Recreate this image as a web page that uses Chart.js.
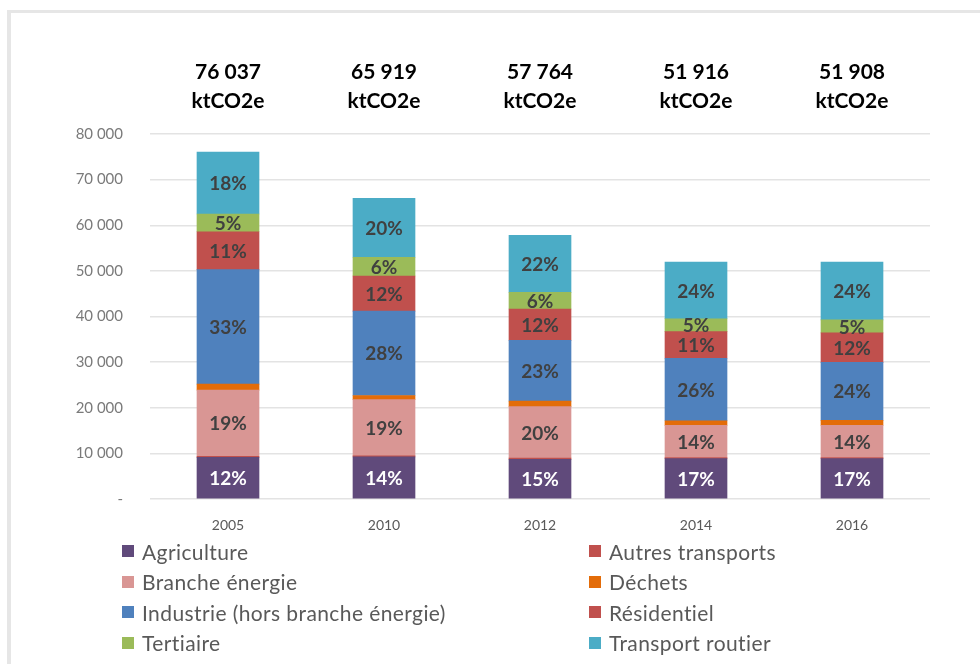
<!DOCTYPE html>
<html>
<head>
<meta charset="utf-8">
<script src="https://cdn.jsdelivr.net/npm/chart.js@4"></script>
<style>
  html, body { margin: 0; padding: 0; background: #fff; }
  body { width: 980px; height: 664px; position: relative; overflow: hidden; font-family: Lato, 'Open Sans', sans-serif; }
  .frame { position: absolute; left: 7px; top: 10px; right: -10px; bottom: -10px; border-left: 4px solid #e6e6e6; border-top: 3px solid #e6e6e6; }
  .wrap { position: absolute; left: 0; top: 0; width: 980px; height: 540px; }
  .legend { position: absolute; left: 122px; top: 536px; width: 820px; display: grid; grid-template-columns: 467px 320px; }
  .li { height: 30.5px; display: flex; align-items: center; color: #595959; font-size: 21px; letter-spacing: 0.4px; white-space: nowrap; }
  .sw { width: 12px; height: 12px; margin-right: 8px; flex: none; }
</style>
</head>
<body>
<div class="frame"></div>
<div class="wrap"><canvas id="c" width="980" height="540"></canvas></div>
<div class="legend" id="legend"></div>
<script>
// ─────────────────────────────────────────────
//  DATA (ktCO2e)
// ─────────────────────────────────────────────
const years   = ['2005', '2010', '2012', '2014', '2016'];
const totals  = [76037, 65919, 57764, 51916, 51908];
const yTicks  = [0, 10000, 20000, 30000, 40000, 50000, 60000, 70000, 80000];

const agriculture = [9124, 9230, 8700, 8850, 8850];
const autresTransp = [250, 250, 250, 250, 250];
const brancheEnergie = [14500, 12300, 11300, 7050, 7050];
const dechets = [1300, 900, 1200, 1000, 1100];
const industrie = [25100, 18500, 13300, 13700, 12700];
const residentiel = [8300, 7700, 6900, 5850, 6450];
const tertiaire = [3900, 4100, 3650, 2800, 2850];
const transportRoutier = [13563, 12939, 12464, 12416, 12658];

// ─────────────────────────────────────────────
//  SERIES
// ─────────────────────────────────────────────
const series = [
  { label: 'Agriculture', data: agriculture, color: '#604a7b', pct: true, txt: '#ffffff' },
  { label: 'Autres transports', data: autresTransp, color: '#c0504d', pct: false },
  { label: 'Branche énergie', data: brancheEnergie, color: '#d99694', pct: true, txt: '#404040' },
  { label: 'Déchets', data: dechets, color: '#e36c09', pct: false },
  { label: 'Industrie (hors branche énergie)', data: industrie, color: '#4f81bd', pct: true, txt: '#404040' },
  { label: 'Résidentiel', data: residentiel, color: '#c0504d', pct: true, txt: '#404040' },
  { label: 'Tertiaire', data: tertiaire, color: '#9bbb59', pct: true, txt: '#404040' },
  { label: 'Transport routier', data: transportRoutier, color: '#4bacc6', pct: true, txt: '#404040' }
];

const fmt = v => v === 0 ? '-' : String(v).replace(/\B(?=(\d{3})+(?!\d))/g, ' ');

// percentages inside the segments + totals above the bars
const labelsPlugin = {
  id: 'labels',
  afterDatasetsDraw(chart) {
    const ctx = chart.ctx;
    ctx.save();
    ctx.textAlign = 'center';
    ctx.textBaseline = 'middle';
    ctx.font = 'bold 19px Lato, sans-serif';
    series.forEach((s, i) => {
      if (!s.pct) return;
      const meta = chart.getDatasetMeta(i);
      meta.data.forEach((bar, j) => {
        const p = Math.round(s.data[j] / totals[j] * 100) + '%';
        ctx.fillStyle = s.txt;
        ctx.fillText(p, bar.x, (bar.y + bar.base) / 2 + 1);
      });
    });
    ctx.fillStyle = '#000';
    ctx.font = 'bold 21px Lato, sans-serif';
    const xs = chart.scales.x;
    years.forEach((y, j) => {
      const x = xs.getPixelForValue(j);
      ctx.fillText(fmt(totals[j]), x, 72);
      ctx.fillText('ktCO2e', x, 101);
    });
    ctx.restore();
  }
};

new Chart(document.getElementById('c'), {
  type: 'bar',
  data: {
    labels: years,
    datasets: series.map(s => ({
      label: s.label, data: s.data, backgroundColor: s.color,
      barThickness: 62, borderWidth: 0
    }))
  },
  options: {
    responsive: false,
    animation: false,
    layout: { padding: { top: 134, right: 50, left: 0, bottom: 0 } },
    plugins: { legend: { display: false }, tooltip: { enabled: false } },
    scales: {
      x: {
        stacked: true,
        grid: { display: false },
        border: { display: false },
        ticks: { color: '#595959', font: { family: 'Lato', size: 14 }, padding: 10 },
        afterFit: s => { s.height = 41; }
      },
      y: {
        stacked: true,
        min: 0, max: 80000,
        afterBuildTicks: s => { s.ticks = yTicks.map(v => ({ value: v })); },
        grid: { color: '#e3e3e3', lineWidth: 1.5, drawTicks: false },
        border: { display: false },
        ticks: { color: '#7a7a7a', font: { family: 'Lato', size: 15 }, padding: 27, callback: v => fmt(v) },
        afterFit: s => { s.width = 150; }
      }
    }
  },
  plugins: [labelsPlugin]
});

// ─────────────────────────────────────────────
//  LEGEND (two columns, reads left column then right)
// ─────────────────────────────────────────────
(function buildLegend() {
  const box = document.getElementById('legend');
  const half = Math.ceil(series.length / 2);
  for (let r = 0; r < half; r++) {
    [series[r * 2], series[r * 2 + 1]].forEach(s => {
      if (!s) return;
      const d = document.createElement('div');
      d.className = 'li';
      d.innerHTML = '<span class="sw" style="background:' + s.color + '"></span>';
      d.appendChild(document.createTextNode(s.label));
      box.appendChild(d);
    });
  }
})();
</script>
</body>
</html>
